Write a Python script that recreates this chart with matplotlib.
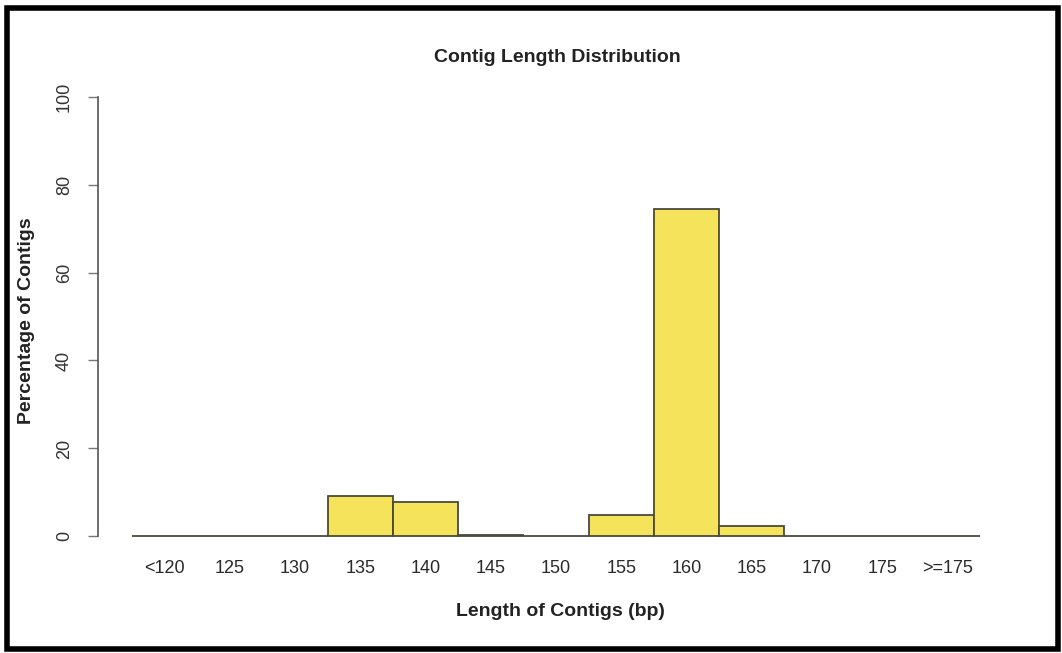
import matplotlib.pyplot as plt
from matplotlib.patches import Rectangle

plt.rcParams["font.family"] = ["Liberation Sans", "DejaVu Sans"]

categories = ['<120', '125', '130', '135', '140', '145', '150',
              '155', '160', '165', '170', '175', '>=175']
percent = [0, 0, 0, 9.2, 7.8, 0.3, 0, 4.8, 74.5, 2.3, 0, 0, 0]
y_ticks = [0, 20, 40, 60, 80, 100]

W, H = 1062, 653
fig = plt.figure(figsize=(W / 100, H / 100), dpi=100)
fig.patch.set_facecolor('white')

# plot region in pixels (R style: 4% padding around the data range)
left, right, top, bottom = 98, 1014, 79, 554
ax = fig.add_axes([left / W, 1 - bottom / H, (right - left) / W, (bottom - top) / H])

x = [i + 0.5 for i in range(len(categories))]
ax.bar(x, percent, width=1.0, color='#f6e35c', edgecolor='#4a4a3c', linewidth=1.3)

ax.set_xlim(-0.52, 13.52)
ax.set_ylim(-4, 104)

for s in ['top', 'right', 'bottom']:
    ax.spines[s].set_visible(False)
ax.spines['left'].set_bounds(0, 100)
ax.spines['left'].set_color('#555555')
ax.spines['left'].set_linewidth(1.2)

ax.set_yticks(y_ticks)
ax.set_yticklabels([str(t) for t in y_ticks], rotation=90, va='center')
ax.tick_params(axis='y', length=7, width=1.0, color='#777777', pad=11,
               labelsize=13, labelcolor='#333333')

ax.set_xticks(x)
ax.set_xticklabels(categories)
ax.tick_params(axis='x', length=0, pad=4, labelsize=13, labelcolor='#2a2a2a')

fig.text(557 / W, 1 - 57 / H, 'Contig Length Distribution', ha='center', va='center',
         fontsize=14, fontweight='bold', color='#222222')
fig.text(560 / W, 1 - 612 / H, 'Length of Contigs (bp)', ha='center', va='center',
         fontsize=14, fontweight='bold', color='#222222')
fig.text(27 / W, 1 - 321 / H, 'Percentage of Contigs', ha='center', va='center',
         rotation=90, fontsize=14, fontweight='bold', color='#222222')

# thick black frame around the figure
fig.patches.append(Rectangle((7 / W, 4 / H), (1058 - 7) / W, (645 - 4) / H,
                             transform=fig.transFigure, fill=False,
                             edgecolor='black', linewidth=4))

fig.savefig('out.png', dpi=100)
